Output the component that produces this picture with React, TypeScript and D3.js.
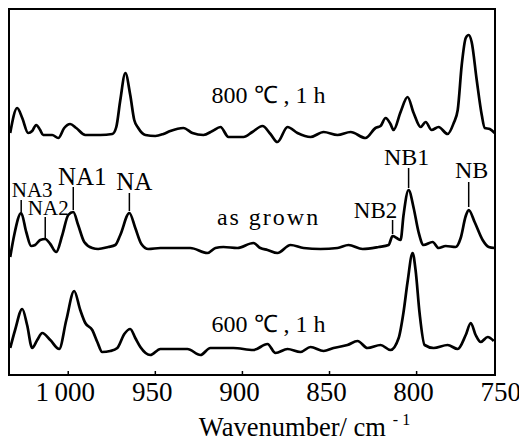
import React from "react";
import * as d3 from "d3";

// wavenumber (cm-1) and relative intensity above each trace's baseline
const top800Wn = [1033.3, 1029.3, 1026.4, 1023.0, 1020.7, 1018.4, 1016.1, 1014.4, 1009.2, 1005.7, 1002.3, 998.9, 995.4, 990.2, 981.6, 974.7, 972.4, 970.1, 967.2, 964.4, 962.1, 959.8, 955.7, 950.0, 945.4, 941.4, 933.9, 928.7, 922.4, 917.2, 912.6, 908.0, 899.4, 894.3, 888.5, 883.9, 879.9, 874.1, 868.4, 860.9, 853.4, 845.4, 837.9, 829.3, 823.6, 820.7, 817.8, 815.0, 813.2, 809.2, 805.2, 801.7, 797.7, 794.8, 791.4, 787.4, 782.2, 778.7, 776.4, 774.1, 771.8, 770.1, 768.4, 765.5, 762.6, 760.9, 758.0, 755.2];
const top800Val = [2, 27, 17, 2, 4, 10, 5, 0, 0, -3, 7, 11, 7, 0, 0, 1, 8, 35, 62, 40, 15, 7, 0, -1, 1, 4, 7, 2, 0, 4, 8, -2, -2, 3, 9, 1, -7, 8, 2, -2, 3, 0, 3, -3, 7, 9, 17, 11, 5, 23, 38, 22, 8, 13, 5, 8, 1, 12, 25, 70, 97, 100, 93, 55, 20, 7, 6, 2];

const grownWn = [1033.3, 1031.0, 1027.0, 1024.1, 1021.3, 1019.0, 1016.1, 1013.2, 1010.3, 1006.9, 1003.4, 1000.0, 997.1, 994.3, 990.8, 986.2, 982.8, 977.0, 973.0, 970.1, 964.9, 961.5, 958.0, 954.0, 947.1, 940.2, 929.9, 920.1, 915.5, 910.9, 902.9, 893.7, 889.7, 885.6, 879.9, 872.4, 864.9, 855.2, 845.4, 839.1, 831.0, 821.8, 816.1, 813.8, 811.5, 809.2, 807.5, 804.6, 801.7, 798.9, 796.0, 790.8, 787.4, 783.3, 777.6, 774.7, 771.8, 770.1, 766.7, 762.1, 758.6, 755.2];
const grownVal = [-9, 13, 35, 16, 2, 3, 8, 9, 4, -4, 13, 33, 36, 23, 6, 0, -1, 1, 3, 13, 35, 20, 4, -1, 0, 0, 0, -5, 0, 1, 0, 5, 0, -2, -5, 3, 0, -1, 0, 3, -1, 1, 3, 12, 10, 8, 33, 58, 40, 16, 3, 6, 0, 2, 1, 10, 32, 38, 26, 8, 1, 0];

const c600Wn = [1033.3, 1030.5, 1026.4, 1023.6, 1020.7, 1017.8, 1014.9, 1010.3, 1005.2, 1001.1, 996.6, 993.1, 990.2, 986.2, 983.3, 980.5, 975.9, 971.8, 967.8, 964.4, 961.5, 958.6, 952.9, 947.1, 938.5, 931.6, 924.1, 918.4, 905.2, 893.7, 885.6, 881.0, 874.1, 866.7, 860.9, 853.4, 847.7, 839.7, 833.9, 828.2, 820.7, 815.0, 810.3, 807.5, 805.2, 802.3, 800.6, 798.3, 795.4, 790.2, 782.2, 776.4, 771.8, 768.9, 766.1, 763.2, 759.2, 755.7];
const c600Val = [0, 18, 39, 23, 0, 8, 15, 8, -1, 28, 57, 38, 25, 18, 6, -4, -3, 0, 14, 19, 10, 1, -7, -1, -1, -1, -7, 0, 0, -2, 4, -5, -1, -4, 1, -3, 0, 3, 7, 0, 3, -2, 10, 36, 66, 95, 78, 35, 3, 0, 3, -1, 13, 25, 13, 6, 11, 7];

const offsets = [240, 127, 27];
const conditions = ["800 \u2103 , 1 h", "as grown", "600 \u2103 , 1 h"];

const xTicks = [1000, 950, 900, 850, 800, 750];
const xTickLabels = ["1\u2009000", "950", "900", "850", "800", "750"];

const peakLabels = ["NA3", "NA2", "NA1", "NA", "NB2", "NB1", "NB"];
const peakWn = [1027.0, 1013.2, 997.1, 964.9, 813.8, 804.6, 770.1];

// label layout (px): text centre offset, text baseline, line top, line bottom
const peakLayout = [
  { dx: 11, ty: 197, y1: 200, y2: 212, size: 21 },
  { dx: 3, ty: 215, y1: 217, y2: 238, size: 21 },
  { dx: 9, ty: 185, y1: 187, y2: 210, size: 25 },
  { dx: 5, ty: 190, y1: 193, y2: 211, size: 25 },
  { dx: -17, ty: 218, y1: 220, y2: 234, size: 23 },
  { dx: -2, ty: 165, y1: 168, y2: 188, size: 24 },
  { dx: 3, ty: 178, y1: 182, y2: 207, size: 24 },
];

const W = 519;
const H = 445;
const left = 9;
const right = 495;
const topY = 9;
const bottom = 375;
const font = "'Liberation Serif', 'Times New Roman', serif";

export default function App() {
  const x = d3.scaleLinear().domain([1034, 755]).range([left, right]);
  const y = d3.scaleLinear().domain([0, bottom - topY]).range([bottom, topY]);

  const series = [
    { wn: top800Wn, val: top800Val },
    { wn: grownWn, val: grownVal },
    { wn: c600Wn, val: c600Val },
  ];

  const line = (i: number) =>
    d3
      .line<number>()
      .x((d) => x(series[i].wn[d]))
      .y((d) => y(offsets[i] + series[i].val[d]))
      .curve(d3.curveMonotoneX)(d3.range(series[i].wn.length)) || "";

  const condDy = [32, 23, 16];

  return (
    <svg
      width={W}
      height={H}
      style={{ position: "absolute", left: 0, top: 0, background: "#fff" }}
      fontFamily={font}
    >
      <rect x={left} y={topY} width={right - left} height={bottom - topY} fill="none" stroke="#000" strokeWidth={2} />
      {xTicks.map((t, i) => (
        <g key={t}>
          {t > 755 && <line x1={x(t)} x2={x(t)} y1={bottom} y2={bottom - 4} stroke="#000" strokeWidth={1.5} />}
          <text x={x(t) - 3} y={401} textAnchor="middle" fontSize={27}>
            {xTickLabels[i]}
          </text>
        </g>
      ))}
      <text x={x(925)} y={436} textAnchor="start" fontSize={26.5}>
        Wavenumber/ cm
        <tspan fontSize={16} dy={-11} dx={7}>- 1</tspan>
      </text>

      {series.map((s, i) => (
        <path key={i} d={line(i)} fill="none" stroke="#000" strokeWidth={2.7} strokeLinejoin="round" />
      ))}

      {conditions.map((c, i) => (
        <text
          key={c}
          x={x(885)}
          y={y(offsets[i] + condDy[i])}
          textAnchor="middle"
          fontSize={24}
          letterSpacing={i === 1 ? 2 : 0}
        >
          {c}
        </text>
      ))}

      {peakLabels.map((p, i) => {
        const L = peakLayout[i];
        const px = x(peakWn[i]);
        return (
          <g key={p}>
            <line x1={px} x2={px} y1={L.y1} y2={L.y2} stroke="#000" strokeWidth={1.5} />
            <text x={px + L.dx} y={L.ty} textAnchor="middle" fontSize={L.size}>
              {p}
            </text>
          </g>
        );
      })}
    </svg>
  );
}
